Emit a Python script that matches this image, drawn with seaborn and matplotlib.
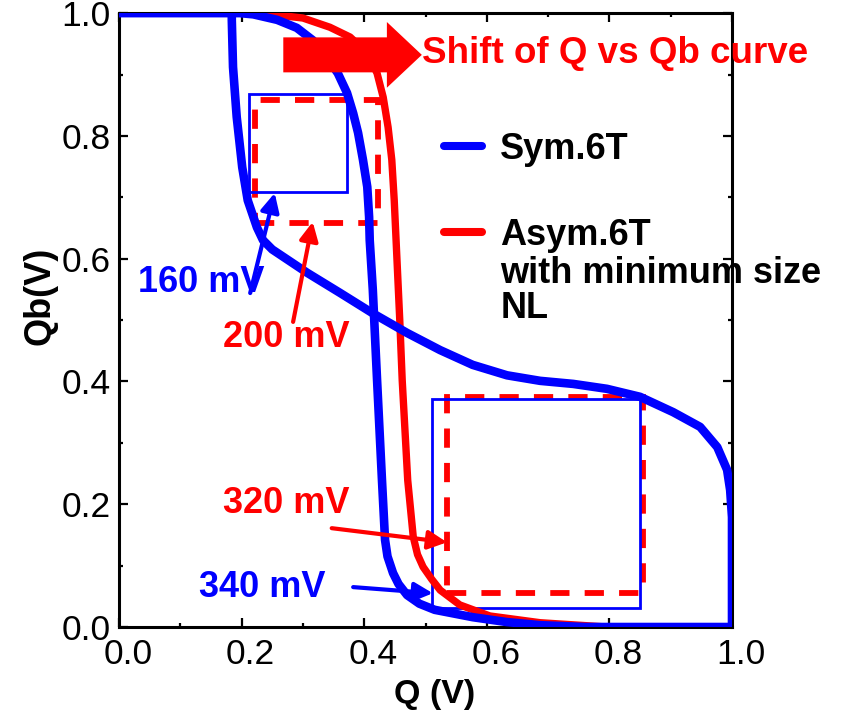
import numpy as np
import matplotlib.pyplot as plt
import seaborn as sns
from matplotlib.lines import Line2D
from matplotlib.patches import Rectangle
from matplotlib.transforms import ScaledTranslation

sns.set_theme(style='ticks')
plt.rcParams['font.family'] = ['Liberation Sans', 'DejaVu Sans']
plt.rcParams.update({'text.color': 'black', 'axes.labelcolor': 'black',
                     'xtick.color': 'black', 'ytick.color': 'black'})

# --- Data ---
# Sym.6T, first inverter (Qb vs Q, steep drop)
sym_q_a = [0.0, 0.197, 0.219, 0.258, 0.290, 0.316, 0.339, 0.357, 0.372, 0.382,
           0.390, 0.398, 0.405, 0.408, 0.409, 0.414, 0.421, 0.429, 0.434, 0.438,
           0.447, 0.456, 0.470, 0.490, 0.515, 0.577, 0.633, 0.687, 0.76, 1.0]
sym_qb_a = [1.0, 1.0, 0.998, 0.989, 0.976, 0.956, 0.928, 0.902, 0.870, 0.837,
            0.805, 0.761, 0.717, 0.668, 0.630, 0.550, 0.402, 0.239, 0.142, 0.115,
            0.088, 0.070, 0.052, 0.038, 0.028, 0.016, 0.008, 0.003, 0.0, 0.0]
# Sym.6T, second inverter (mirrored curve)
sym_q_b = [0.184, 0.184, 0.186, 0.192, 0.201, 0.210, 0.225, 0.235, 0.250, 0.268,
           0.307, 0.361, 0.414, 0.470, 0.524, 0.577, 0.633, 0.687, 0.741, 0.796,
           0.850, 0.904, 0.948, 0.976, 0.992, 0.997, 1.0, 1.0, 1.0]
sym_qb_b = [1.0, 0.989, 0.912, 0.831, 0.749, 0.695, 0.651, 0.630, 0.615, 0.603,
            0.577, 0.544, 0.511, 0.479, 0.451, 0.427, 0.410, 0.401, 0.396, 0.388,
            0.375, 0.350, 0.326, 0.293, 0.256, 0.223, 0.179, 0.104, 0.0]
# Asym.6T with minimum size NL
asym_q = [0.0, 0.230, 0.300, 0.344, 0.377, 0.405, 0.421, 0.431, 0.439, 0.445,
          0.449, 0.452, 0.458, 0.462, 0.471, 0.480, 0.487, 0.496, 0.510, 0.524,
          0.556, 0.605, 0.687, 0.796, 1.0]
asym_qb = [1.0, 1.0, 0.992, 0.977, 0.961, 0.935, 0.902, 0.863, 0.814, 0.761,
           0.695, 0.630, 0.500, 0.402, 0.239, 0.147, 0.118, 0.098, 0.078, 0.060,
           0.036, 0.018, 0.007, 0.0, 0.0]

# noise margin squares: lower-left corner (Q, Qb) and side (V)
sym_box_q = [0.212, 0.510]
sym_box_qb = [0.708, 0.031]
sym_box_side = [0.160, 0.340]
asym_box_q = [0.222, 0.535]
asym_box_qb = [0.658, 0.055]
asym_box_side = [0.200, 0.320]

BLUE = '#0000ff'
RED = '#ff0000'

fig = plt.figure(figsize=(8.44, 7.13), dpi=100)
ax = fig.add_axes([0.141, 0.1206, 0.7263, 0.861])

# --- Curves ---
sns.lineplot(x=asym_q, y=asym_qb, sort=False, estimator=None, color=RED,
             linewidth=5.3, ax=ax, zorder=3)
sns.lineplot(x=sym_q_a, y=sym_qb_a, sort=False, estimator=None, color=BLUE,
             linewidth=6.2, ax=ax, zorder=4)
sns.lineplot(x=sym_q_b, y=sym_qb_b, sort=False, estimator=None, color=BLUE,
             linewidth=6.2, ax=ax, zorder=4)

# --- Squares ---
for q, qb, s in zip(asym_box_q, asym_box_qb, asym_box_side):
    ax.add_patch(Rectangle((q, qb), s, s, fill=False, edgecolor=RED,
                           linewidth=4.2, linestyle=(0, (3.3, 2.6)), zorder=2))
for q, qb, s in zip(sym_box_q, sym_box_qb, sym_box_side):
    ax.add_patch(Rectangle((q, qb), s, s, fill=False, edgecolor=BLUE,
                           linewidth=2.0, zorder=2.5))

# --- Annotations ---
lab_kw = dict(fontsize=26, fontweight='bold', va='center', ha='left', zorder=6)
arr_kw = dict(arrowstyle='-|>', lw=3, mutation_scale=28, shrinkA=0, shrinkB=0)
ax.text(0.031, 0.562, '160 mV', color=BLUE, **lab_kw)
ax.annotate('', xy=(0.254, 0.707), xytext=(0.214, 0.544),
            arrowprops=dict(color=BLUE, **arr_kw), zorder=6)
ax.text(0.170, 0.472, '200 mV', color=RED, **lab_kw)
ax.annotate('', xy=(0.316, 0.660), xytext=(0.284, 0.497),
            arrowprops=dict(color=RED, **arr_kw), zorder=6)
ax.text(0.170, 0.202, '320 mV', color=RED, **lab_kw)
ax.annotate('', xy=(0.535, 0.138), xytext=(0.347, 0.161),
            arrowprops=dict(color=RED, **arr_kw), zorder=6)
ax.text(0.130, 0.065, '340 mV', color=BLUE, **lab_kw)
ax.annotate('', xy=(0.512, 0.055), xytext=(0.382, 0.065),
            arrowprops=dict(color=BLUE, **arr_kw), zorder=6)

# big shift arrow + caption
ax.arrow(0.268, 0.932, 0.226, 0.0, width=0.057, head_width=0.107,
         head_length=0.057, length_includes_head=True, color=RED,
         linewidth=0, zorder=7)
ax.text(0.494, 0.935, 'Shift of Q vs Qb curve', color=RED, fontsize=26.5,
        fontweight='bold', va='center', ha='left', zorder=7)

# --- Legend ---
handles = [Line2D([], [], color=BLUE, linewidth=5.8),
           Line2D([], [], color=RED, linewidth=5.8)]
leg = ax.legend(handles, ['Sym.6T', 'Asym.6T'], loc='upper left',
                bbox_to_anchor=(0.53, 0.807), frameon=False, borderpad=0,
                borderaxespad=0, handlelength=1.05, handletextpad=0.5,
                labelspacing=1.41, prop=dict(size=26, weight='bold'))
ax.text(0.622, 0.604, 'with minimum size\nNL', fontsize=26, fontweight='bold',
        va='top', ha='left', linespacing=1.0, zorder=6)

# --- Axes styling ---
ax.set_xlim(0, 1.0)
ax.set_ylim(0, 1.0)
ax.set_xticks(np.arange(0, 1.01, 0.2))
ax.set_yticks(np.arange(0, 1.01, 0.2))
ax.set_xticks(np.arange(0.1, 1.0, 0.2), minor=True)
ax.set_yticks(np.arange(0.1, 1.0, 0.2), minor=True)
ax.xaxis.set_major_formatter(plt.FormatStrFormatter('%.1f'))
ax.yaxis.set_major_formatter(plt.FormatStrFormatter('%.1f'))
ax.tick_params(which='both', direction='in', top=True, right=True,
               width=1.6, colors='black', labelsize=25.5)
ax.tick_params(which='major', length=6.5)
ax.tick_params(which='minor', length=3)
ax.tick_params(axis='x', pad=8)
ax.tick_params(axis='y', pad=6)
for sp in ax.spines.values():
    sp.set_linewidth(2.2)
    sp.set_color('black')
ax.set_facecolor('white')

# the x tick labels sit a little to the right of their ticks in the original
shift = ScaledTranslation(0.09, 0, fig.dpi_scale_trans)
for lbl in ax.get_xticklabels():
    lbl.set_transform(lbl.get_transform() + shift)

ax.set_xlabel('Q (V)', fontsize=24.5, fontweight='bold')
ax.set_ylabel('Qb(V)', fontsize=26, fontweight='bold')
ax.xaxis.set_label_coords(0.515, -0.085)
ax.yaxis.set_label_coords(-0.10, 0.54)

fig.savefig('out.png', dpi=100)
